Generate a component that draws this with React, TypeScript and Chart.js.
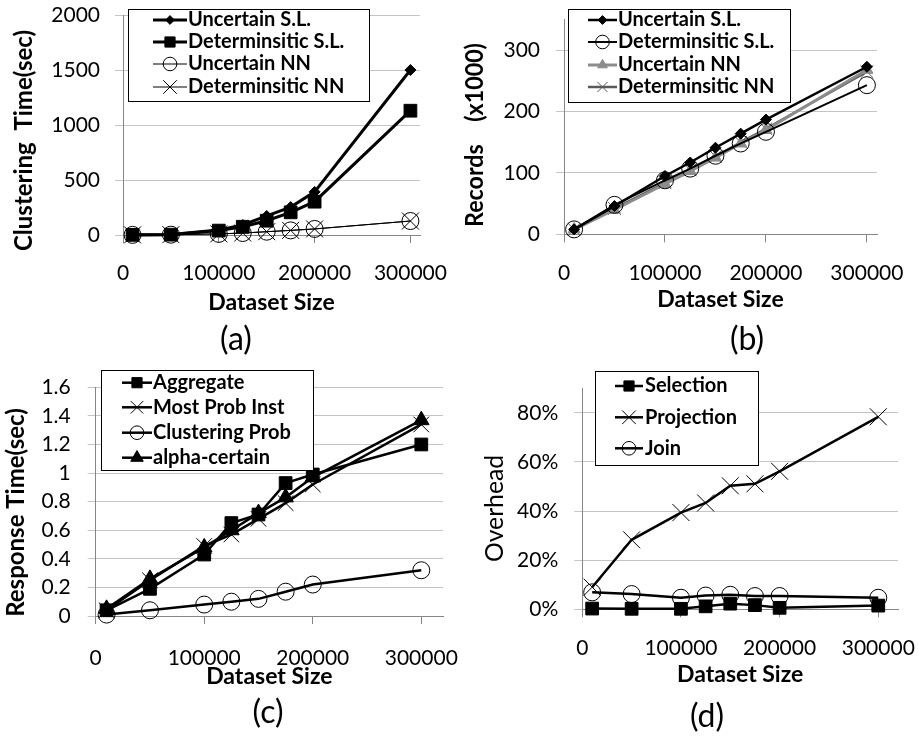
import React, { useEffect, useRef } from 'react';
import { Chart, registerables } from 'chart.js';

Chart.register(...registerables);
Chart.defaults.font.family = 'Lato, "Open Sans", sans-serif';

// ---------- DATA ----------
const sizes = [10000, 50000, 100000, 125000, 150000, 175000, 200000, 300000];
const xTickValues = [0, 100000, 200000, 300000];

// (a) Clustering time (sec)
const aUncertainSL = [2, 5, 45, 91, 173, 254, 392, 1500];
const aDeterministicSL = [1, 3, 40, 75, 130, 206, 303, 1130];
const aUncertainNN = [1, 3, 10, 18, 30, 42, 55, 127];
const aDeterministicNN = [1, 3, 10, 18, 30, 42, 55, 127];
const aYTicks = [0, 500, 1000, 1500, 2000];

// (b) Records (x1000)
const bUncertainSL = [8, 46, 95, 117, 141, 164, 187, 273];
const bDeterministicSL = [8, 48, 88, 107, 128, 148, 167, 243];
const bUncertainNN = [8, 40, 82, 103, 125, 148, 170, 268];
const bDeterministicNN = [8, 42, 84, 105, 127, 150, 172, 265];
const bYTicks = [0, 100, 200, 300];

// (c) Response time (sec)
const cAggregate = [0.04, 0.19, 0.43, 0.65, 0.71, 0.93, 0.99, 1.2];
const cMostProbInst = [0.04, 0.25, 0.49, 0.57, 0.68, 0.79, 0.92, 1.34];
const cClusteringProb = [0.01, 0.04, 0.08, 0.1, 0.12, 0.17, 0.22, 0.32];
const cAlphaCertain = [0.05, 0.26, 0.48, 0.6, 0.72, 0.83, 0.97, 1.37];
const cYTicks = [0, 0.2, 0.4, 0.6, 0.8, 1, 1.2, 1.4, 1.6];

// (d) Overhead (%)
const dSelection = [0.3, 0.2, 0.2, 1.2, 2.3, 1.7, 0.6, 1.5];
const dProjection = [9, 28.3, 39.4, 43.3, 50.3, 51.1, 56.2, 78.4];
const dJoin = [6.9, 6.2, 4.7, 5.6, 5.9, 5.4, 5.4, 4.7];
const dYTicks = [0, 20, 40, 60, 80];

// ---------- STYLE ----------
const GRID = '#c4c4c4';
const AXIS = '#868686';
const FONT = 'Lato, "Open Sans", sans-serif';

type Series = {
  label: string;
  values: number[];
  color: string;
  width: number;
  point: string;
  radius: number;
  fill: string;
  pointBorder: number;
};

type Panel = {
  left: number; top: number; w: number; h: number;
  series: Series[];
  xMax: number; yMax: number; yTicks: number[];
  yFmt: (v: number) => string;
  yTitle: string; yTitleFont: string; yTitlePos: { x: number; y: number; len: number };
  padTop: number; padRight: number;
  yAxisWidth: number; xAxisHeight: number;
  yTickPad: number; xTickPad: number; xTitlePad: number;
  legend: { x: number; y: number; w: number; h: number; rows: number[]; l1: number; l2: number; tx: number };
};

function drawMarker(ctx: CanvasRenderingContext2D, style: string, x: number, y: number, r: number, fill: string, stroke: string, bw: number) {
  ctx.save();
  ctx.beginPath();
  if (style === 'circle') {
    ctx.arc(x, y, r, 0, Math.PI * 2);
  } else if (style === 'rect') {
    const s = r / Math.SQRT2;
    ctx.rect(x - s, y - s, 2 * s, 2 * s);
  } else if (style === 'rectRot') {
    ctx.moveTo(x, y - r); ctx.lineTo(x + r, y); ctx.lineTo(x, y + r); ctx.lineTo(x - r, y); ctx.closePath();
  } else if (style === 'triangle') {
    let a = 0;
    ctx.moveTo(x + Math.sin(a) * r, y - Math.cos(a) * r);
    a += (2 * Math.PI) / 3;
    ctx.lineTo(x + Math.sin(a) * r, y - Math.cos(a) * r);
    a += (2 * Math.PI) / 3;
    ctx.lineTo(x + Math.sin(a) * r, y - Math.cos(a) * r);
    ctx.closePath();
  } else if (style === 'crossRot') {
    const s = r * Math.SQRT1_2;
    ctx.moveTo(x - s, y - s); ctx.lineTo(x + s, y + s);
    ctx.moveTo(x + s, y - s); ctx.lineTo(x - s, y + s);
  }
  if (style !== 'crossRot' && fill !== 'transparent') {
    ctx.fillStyle = fill;
    ctx.fill();
  }
  ctx.strokeStyle = stroke;
  ctx.lineWidth = bw;
  ctx.stroke();
  ctx.restore();
}

function makeOverlayPlugin(p: Panel) {
  return {
    id: 'boxLegendAndTitle',
    afterDraw(chart: any) {
      const ctx: CanvasRenderingContext2D = chart.ctx;
      // y-axis title
      const t = p.yTitlePos;
      ctx.save();
      ctx.translate(t.x, t.y);
      ctx.rotate(-Math.PI / 2);
      ctx.fillStyle = '#000';
      ctx.font = p.yTitleFont;
      ctx.textAlign = 'center';
      ctx.textBaseline = 'middle';
      ctx.fillText(p.yTitle, 0, 0, t.len);
      ctx.restore();

      // legend box
      const L = p.legend;
      ctx.save();
      ctx.fillStyle = '#fff';
      ctx.fillRect(L.x, L.y, L.w, L.h);
      ctx.strokeStyle = '#000';
      ctx.lineWidth = 1;
      ctx.strokeRect(Math.round(L.x) + 0.5, Math.round(L.y) + 0.5, Math.round(L.w), Math.round(L.h));
      p.series.forEach((s, i) => {
        const y = L.rows[i];
        ctx.beginPath();
        ctx.strokeStyle = s.color;
        ctx.lineWidth = s.width;
        ctx.moveTo(L.l1, y);
        ctx.lineTo(L.l2, y);
        ctx.stroke();
        drawMarker(ctx, s.point, (L.l1 + L.l2) / 2, y, s.radius * 0.8, s.fill, s.color, s.pointBorder);
        ctx.fillStyle = '#000';
        ctx.font = 'bold 20px ' + FONT;
        ctx.textBaseline = 'middle';
        ctx.textAlign = 'left';
        ctx.fillText(s.label, L.tx, y);
      });
      ctx.restore();
    },
  };
}

function buildConfig(p: Panel): any {
  return {
    type: 'line',
    data: {
      datasets: p.series.map((s) => ({
        label: s.label,
        data: sizes.map((x, i) => ({ x, y: s.values[i] })),
        borderColor: s.color,
        borderWidth: s.width,
        pointStyle: s.point,
        pointRadius: s.radius,
        pointHoverRadius: s.radius,
        pointBackgroundColor: s.fill,
        pointBorderColor: s.color,
        pointBorderWidth: s.pointBorder,
        tension: 0,
        fill: false,
        clip: false,
      })),
    },
    options: {
      responsive: false,
      animation: false,
      events: [],
      layout: { padding: { top: p.padTop, right: p.padRight, left: 0, bottom: 0 } },
      plugins: { legend: { display: false }, tooltip: { enabled: false } },
      scales: {
        x: {
          type: 'linear',
          min: 0,
          max: p.xMax,
          afterBuildTicks: (s: any) => { s.ticks = xTickValues.map((v) => ({ value: v })); },
          afterFit: (s: any) => { s.height = p.xAxisHeight; s.paddingLeft = 0; s.paddingRight = 0; },
          grid: { display: true, drawOnChartArea: false, drawTicks: true, tickLength: 8, color: AXIS, tickColor: AXIS },
          border: { display: true, color: AXIS, width: 1 },
          ticks: { padding: p.xTickPad, color: '#000', font: { size: 21 }, maxRotation: 0, autoSkip: false, callback: (v: any) => String(v) },
          title: { display: true, text: 'Dataset Size', color: '#000', font: { size: 23, weight: 'bold' }, padding: { top: 0, bottom: p.xTitlePad } },
        },
        y: {
          type: 'linear',
          min: 0,
          max: p.yMax,
          afterBuildTicks: (s: any) => { s.ticks = p.yTicks.map((v) => ({ value: v })); },
          afterFit: (s: any) => { s.width = p.yAxisWidth; s.paddingTop = 0; s.paddingBottom = 0; },
          grid: { color: GRID, tickColor: GRID, tickLength: 8, drawTicks: true },
          border: { display: true, color: AXIS, width: 1 },
          ticks: { padding: p.yTickPad, color: '#000', font: { size: 21 }, autoSkip: false, callback: (v: any) => p.yFmt(Number(v)) },
          title: { display: false, text: p.yTitle },
        },
      },
    },
    plugins: [makeOverlayPlugin(p)],
  };
}

const panels: Panel[] = [
  {
    left: 0, top: 0, w: 459, h: 320,
    series: [
      { label: 'Uncertain S.L.', values: aUncertainSL, color: '#000', width: 3, point: 'rectRot', radius: 5.5, fill: '#000', pointBorder: 1 },
      { label: 'Determinsitic S.L.', values: aDeterministicSL, color: '#000', width: 3, point: 'rect', radius: 9, fill: '#000', pointBorder: 1 },
      { label: 'Uncertain NN', values: aUncertainNN, color: '#000', width: 1, point: 'circle', radius: 8.5, fill: 'transparent', pointBorder: 1 },
      { label: 'Determinsitic NN', values: aDeterministicNN, color: '#000', width: 1, point: 'crossRot', radius: 12, fill: 'transparent', pointBorder: 1 },
    ],
    xMax: 310000, yMax: 2000, yTicks: aYTicks, yFmt: (v) => String(v),
    yTitle: 'Clustering  Time(sec)', yTitleFont: 'bold 24px ' + FONT, yTitlePos: { x: 24, y: 140.5, len: 225 },
    padTop: 15, padRight: 39, yAxisWidth: 123, xAxisHeight: 85,
    yTickPad: 15, xTickPad: 17.4, xTitlePad: 3.2,
    legend: { x: 128, y: 9, w: 241, h: 92, rows: [20, 42, 64, 87], l1: 153, l2: 187, tx: 188 },
  },
  {
    left: 459, top: 0, w: 459, h: 320,
    series: [
      { label: 'Uncertain S.L.', values: bUncertainSL, color: '#000', width: 2.5, point: 'rectRot', radius: 5.5, fill: '#000', pointBorder: 1 },
      { label: 'Determinsitic S.L.', values: bDeterministicSL, color: '#000', width: 2, point: 'circle', radius: 8.5, fill: 'transparent', pointBorder: 1 },
      { label: 'Uncertain NN', values: bUncertainNN, color: '#8c8c8c', width: 3, point: 'triangle', radius: 7, fill: '#8c8c8c', pointBorder: 1 },
      { label: 'Determinsitic NN', values: bDeterministicNN, color: '#595959', width: 2.5, point: 'crossRot', radius: 9, fill: 'transparent', pointBorder: 1 },
    ],
    xMax: 310000, yMax: 350, yTicks: bYTicks, yFmt: (v) => String(v),
    yTitle: 'Records    (x1000)', yTitleFont: 'bold 24px ' + FONT, yTitlePos: { x: 16, y: 135, len: 184 },
    padTop: 19.5, padRight: 41, yAxisWidth: 105, xAxisHeight: 85.7,
    yTickPad: 16, xTickPad: 18.1, xTitlePad: 6.2,
    legend: { x: 109, y: 9, w: 222, h: 93, rows: [20, 42, 65, 87], l1: 129, l2: 158, tx: 159 },
  },
  {
    left: 0, top: 340, w: 459, h: 380,
    series: [
      { label: 'Aggregate', values: cAggregate, color: '#000', width: 2.5, point: 'rect', radius: 9, fill: '#000', pointBorder: 1 },
      { label: 'Most Prob Inst', values: cMostProbInst, color: '#000', width: 2.5, point: 'crossRot', radius: 11, fill: 'transparent', pointBorder: 1 },
      { label: 'Clustering Prob', values: cClusteringProb, color: '#000', width: 2.5, point: 'circle', radius: 8.5, fill: 'transparent', pointBorder: 1 },
      { label: 'alpha-certain', values: cAlphaCertain, color: '#000', width: 2.5, point: 'triangle', radius: 9, fill: '#000', pointBorder: 1 },
    ],
    xMax: 320000, yMax: 1.6, yTicks: cYTicks, yFmt: (v) => String(Number(v.toFixed(1))),
    yTitle: 'Response Time(sec)', yTitleFont: 'bold 24px ' + FONT, yTitlePos: { x: 16, y: 172.5, len: 221 },
    padTop: 47.3, padRight: 16, yAxisWidth: 95.7, xAxisHeight: 104,
    yTickPad: 17, xTickPad: 21.7, xTitlePad: 29.5,
    legend: { x: 101, y: 30, w: 212, h: 100, rows: [42.7, 67.3, 92.7, 117.7], l1: 122, l2: 152, tx: 153 },
  },
  {
    left: 459, top: 340, w: 459, h: 380,
    series: [
      { label: 'Selection', values: dSelection, color: '#000', width: 2.5, point: 'rect', radius: 9, fill: '#000', pointBorder: 1 },
      { label: 'Projection', values: dProjection, color: '#000', width: 2.5, point: 'crossRot', radius: 12, fill: 'transparent', pointBorder: 1 },
      { label: 'Join', values: dJoin, color: '#000', width: 2.5, point: 'circle', radius: 8.5, fill: 'transparent', pointBorder: 1 },
    ],
    xMax: 320000, yMax: 90, yTicks: dYTicks, yFmt: (v) => v + '%',
    yTitle: 'Overhead', yTitleFont: '25px ' + FONT, yTitlePos: { x: 36, y: 168.5, len: 107 },
    padTop: 48.3, padRight: 20, yAxisWidth: 123.3, xAxisHeight: 110.7,
    yTickPad: 16, xTickPad: 18.4, xTitlePad: 31.2,
    legend: { x: 136, y: 30.7, w: 163, h: 93.6, rows: [46, 77.3, 108.3], l1: 156, l2: 184, tx: 186 },
  },
];

const captions = [
  { text: '(a)', x: 236, y: 338 },
  { text: '(b)', x: 747, y: 338 },
  { text: '(c)', x: 268, y: 711 },
  { text: '(d)', x: 707, y: 715 },
];

function PanelChart({ p }: { p: Panel }) {
  const ref = useRef<HTMLCanvasElement | null>(null);
  useEffect(() => {
    if (!ref.current) return;
    const chart = new Chart(ref.current, buildConfig(p));
    return () => chart.destroy();
  }, [p]);
  return (
    <div style={{ position: 'absolute', left: p.left, top: p.top, width: p.w, height: p.h }}>
      <canvas ref={ref} width={p.w} height={p.h} style={{ display: 'block', width: p.w, height: p.h }} />
    </div>
  );
}

export default function App() {
  return (
    <div style={{ position: 'absolute', left: 0, top: 0, width: 918, height: 737, background: '#fff', overflow: 'hidden' }}>
      {panels.map((p, i) => (
        <PanelChart key={i} p={p} />
      ))}
      {captions.map((c) => (
        <div
          key={c.text}
          style={{
            position: 'absolute',
            left: c.x - 40,
            top: c.y - 20,
            width: 80,
            height: 40,
            lineHeight: '40px',
            textAlign: 'center',
            fontFamily: FONT,
            fontSize: 32,
            color: '#000',
          }}
        >
          {c.text}
        </div>
      ))}
    </div>
  );
}
